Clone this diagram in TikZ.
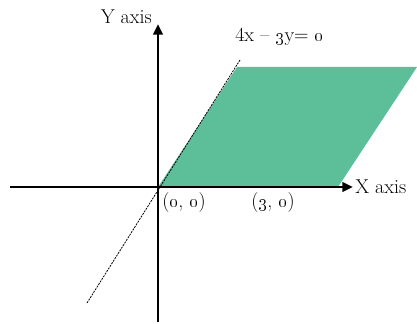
\documentclass[tikz,border=0pt]{standalone}
\usetikzlibrary{arrows.meta}
\definecolor{regiongreen}{RGB}{93,190,154}
\tikzset{
  axis/.style={line width=2.2pt,-{Triangle[length=8pt,width=7pt]}},
  lbl/.style={inner sep=0pt,font=\fontsize{15}{17}\selectfont},
  boundary/.style={line width=0.6pt,dash pattern=on 1.5pt off 0.8pt}
}
\begin{document}
\begin{tikzpicture}[x=0.75pt,y=-0.75pt]
\useasboundingbox (0,0) rectangle (417,324);
\coordinate (O) at (158,187);
\coordinate (xl) at (10,187);
\coordinate (xr) at (353,187);
\coordinate (yb) at (158,322);
\coordinate (yt) at (158,24);
\coordinate (lb) at (87,303);
\coordinate (lt) at (240,60);
\coordinate (gtl) at (237,67);
\coordinate (gtr) at (417,67);
\coordinate (gbr) at (338,187);
\fill[regiongreen] (O) -- (gtl) -- (gtr) -- (gbr) -- cycle;
\draw[boundary] (lb) -- (lt);
\draw[axis] (xl) -- (xr);
\draw[axis] (yb) -- (yt);
\node[lbl,anchor=west] (xlab) at (355,187) {X axis};
\node[lbl,anchor=east] (ylab) at (152,17) {Y axis};
\node[lbl,anchor=base west] (eq) at (235,42) {4x -- \oldstylenums{3}y= \oldstylenums{0}};
\node[lbl,anchor=west] (o) at (162,203) {(\oldstylenums{0}, \oldstylenums{0})};
\node[lbl,anchor=west] (p) at (251,203) {(\oldstylenums{3}, \oldstylenums{0})};
\end{tikzpicture}
\end{document}
